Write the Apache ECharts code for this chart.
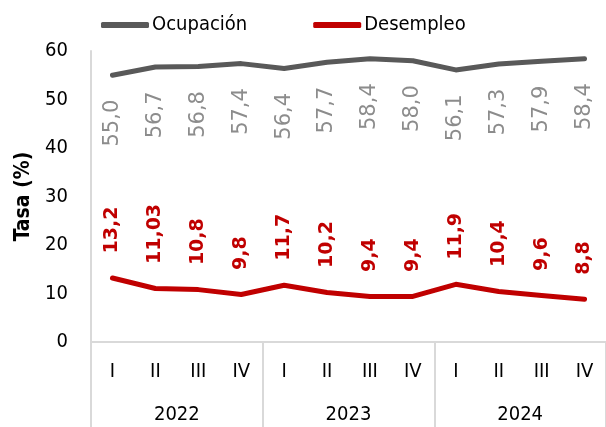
<!DOCTYPE html>
<html>
<head>
<meta charset="utf-8">
<script src="https://cdn.jsdelivr.net/npm/echarts@6/dist/echarts.min.js"></script>
<style>html,body{margin:0;padding:0;background:#fff}#c{width:606px;height:427px}</style>
</head>
<body>
<div id="c"></div>
<script>
const quarters = ['I','II','III','IV','I','II','III','IV','I','II','III','IV'];
const years = ['2022','2023','2024'];
const ocupacion = [55.0, 56.7, 56.8, 57.4, 56.4, 57.7, 58.4, 58.0, 56.1, 57.3, 57.9, 58.4];
const desempleo = [13.2, 11.03, 10.8, 9.8, 11.7, 10.2, 9.4, 9.4, 11.9, 10.4, 9.6, 8.8];
const yTicks = [0, 10, 20, 30, 40, 50, 60];

const FONT = '"DejaVu Sans Condensed", "DejaVu Sans"';
const LFONT = '"DejaVu Sans"';
function fmt(v) {
  const t = Math.abs(v * 10 - Math.round(v * 10)) < 1e-9 ? v.toFixed(1) : String(v);
  return t.replace('.', ',');
}

const chart = echarts.init(document.getElementById('c'), null, {renderer: 'canvas'});
chart.setOption({
  animation: false,
  textStyle: {fontFamily: FONT},
  legend: {
    top: 10, left: 96,
    icon: 'roundRect', itemWidth: 48, itemHeight: 6, itemGap: 66,
    textStyle: {fontFamily: FONT, fontSize: 20, color: '#000', padding: [0,0,0,-2]},
    data: ['Ocupación', 'Desempleo']
  },
  grid: {left: 91, right: 0, top: 51, bottom: 85, containLabel: false},
  xAxis: [{
    type: 'category', data: quarters, position: 'bottom',
    axisLine: {show: true, lineStyle: {color: '#d9d9d9', width: 2}},
    axisTick: {show: false},
    axisLabel: {interval: 0, fontFamily: FONT, fontSize: 20, color: '#000', margin: 20}
  }, {
    type: 'category', data: years, position: 'bottom',
    axisLine: {show: false},
    axisTick: {show: true, length: 90, interval: 0, lineStyle: {color: '#d9d9d9', width: 2}},
    axisLabel: {interval: 0, fontFamily: FONT, fontSize: 20, color: '#000', margin: 63}
  }],
  yAxis: {
    type: 'value', min: yTicks[0], max: yTicks[yTicks.length - 1], interval: 10,
    name: 'Tasa (%)', nameLocation: 'middle', nameGap: 56,
    nameTextStyle: {fontFamily: FONT, fontSize: 21, fontWeight: 'bold', color: '#000'},
    axisLine: {show: true, lineStyle: {color: '#d9d9d9', width: 2}},
    axisTick: {show: false},
    splitLine: {show: false},
    axisLabel: {fontFamily: FONT, fontSize: 20, color: '#000', margin: 23}
  },
  series: [{
    name: 'Ocupación', type: 'line', data: ocupacion,
    symbol: 'circle', symbolSize: 1, showSymbol: true,
    color: '#595959', itemStyle: {color: '#595959'},
    lineStyle: {width: 5, color: '#595959', cap: 'round', join: 'round'},
    label: {
      show: true, position: 'bottom', rotate: 90, align: 'right', verticalAlign: 'middle',
      distance: 24, fontFamily: LFONT, fontSize: 21, color: '#8c8c8c',
      formatter: p => fmt(p.value)
    }
  }, {
    name: 'Desempleo', type: 'line', data: desempleo,
    symbol: 'circle', symbolSize: 1, showSymbol: true,
    color: '#c00000', itemStyle: {color: '#c00000'},
    lineStyle: {width: 5, color: '#c00000', cap: 'round', join: 'round'},
    label: {
      show: true, position: 'top', rotate: 90, align: 'left', verticalAlign: 'middle',
      distance: 24, fontFamily: LFONT, fontSize: 19, fontWeight: 'bold', color: '#c00000',
      formatter: p => fmt(p.value)
    }
  }]
});
</script>
</body>
</html>
